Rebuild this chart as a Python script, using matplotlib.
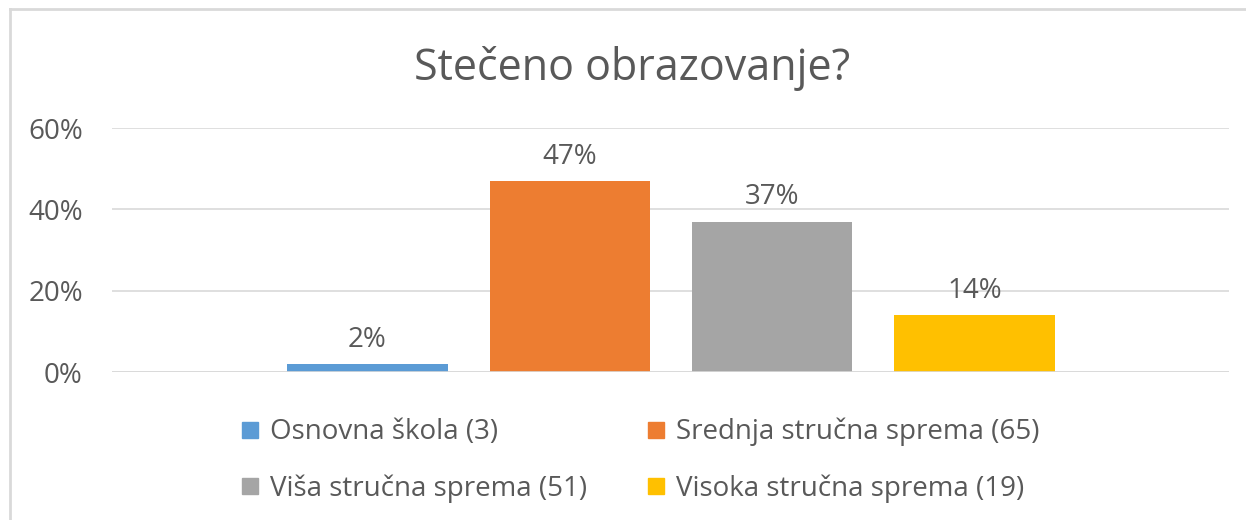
import numpy as np
import matplotlib.pyplot as plt
from matplotlib.lines import Line2D

labels = ['Osnovna škola (3)', 'Srednja stručna sprema (65)',
          'Viša stručna sprema (51)', 'Visoka stručna sprema (19)']
values = [0.02, 0.47, 0.37, 0.14]
colors = ['#5B9BD5', '#ED7D31', '#A5A5A5', '#FFC000']
title = 'Stečeno obrazovanje?'

plt.rcParams['font.family'] = ['Open Sans', 'DejaVu Sans']
txt = '#595959'

fig = plt.figure(figsize=(12.46, 5.2), dpi=100)
ax = fig.add_axes([0.0899, 0.2846, 0.8965, 0.4692])

x = np.arange(len(values))
bars = ax.bar(x, values, width=0.792, color=colors, zorder=3)
for xi, v in zip(x, values):
    ax.text(xi, v + 0.025, '{:.0f}%'.format(v * 100), ha='center', va='bottom',
            fontsize=20, color=txt)

ax.set_xlim(-1.262, 4.257)
ax.set_ylim(0, 0.6)
ax.set_yticks([0, 0.2, 0.4, 0.6])
ax.set_yticklabels(['0%', '20%', '40%', '60%'])
ax.tick_params(axis='y', length=0, pad=21, labelsize=20, labelcolor=txt)
ax.set_xticks([])
ax.grid(axis='y', color='#D9D9D9', linewidth=1.2, zorder=0)
for s in ax.spines.values():
    s.set_visible(False)
ax.axhline(0, color='#D9D9D9', linewidth=1.2, zorder=4)

fig.text(0.507, 0.869, title, ha='center', va='center', fontsize=31, color=txt)

# legend, row-wise order
order = [0, 2, 1, 3]
handles = [Line2D([], [], marker='s', linestyle='', markersize=12,
                  color=colors[i]) for i in order]
fig.legend(handles, [labels[i] for i in order], ncol=2, loc='center',
           bbox_to_anchor=(0.513, 0.115), frameon=False, fontsize=20,
           labelcolor=txt, handletextpad=0.3, columnspacing=2.1,
           labelspacing=1.0, handlelength=0.8)

# chart border (top & left visible)
fig.add_artist(Line2D([10 / 1246, 1], [1 - 9 / 520, 1 - 9 / 520],
                      color='#D9D9D9', linewidth=2, transform=fig.transFigure))
fig.add_artist(Line2D([10 / 1246, 10 / 1246], [0, 1 - 9 / 520],
                      color='#D9D9D9', linewidth=2, transform=fig.transFigure))

fig.savefig('out.png', dpi=100, facecolor='white')
